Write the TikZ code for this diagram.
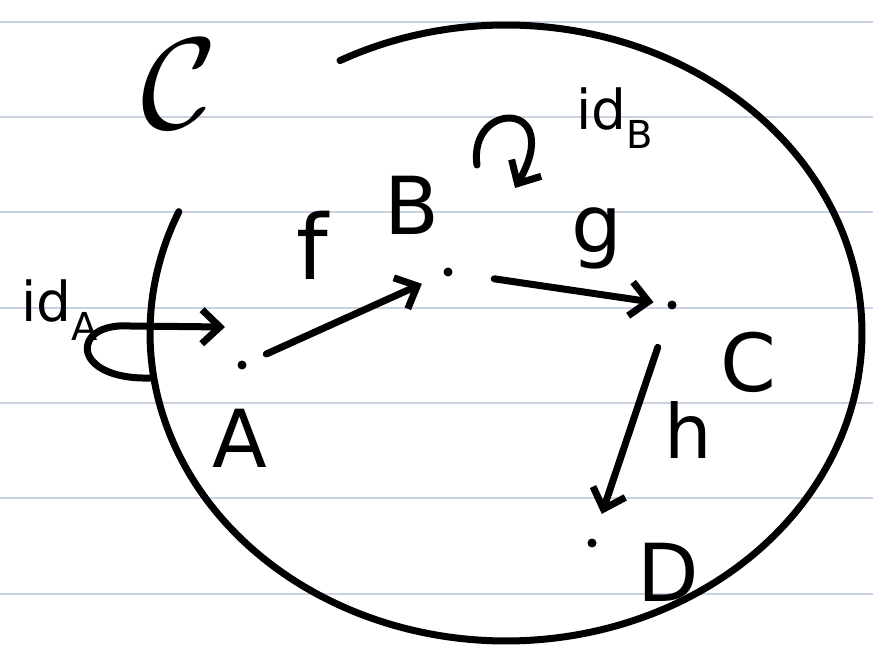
\documentclass[tikz,border=0pt]{standalone}
\usepackage{fontspec}
\setmainfont{DejaVu Sans}
\usetikzlibrary{arrows.meta,calc}
\definecolor{ruleline}{RGB}{200,210,224}
\tikzset{
  ink/.style={line width=7pt, line cap=round, line join=round, black},
  arr/.style={ink, -{Straight Barb[length=18pt,width=34pt,line width=7pt]}},
  pt/.style={circle, fill=black, inner sep=0pt, minimum size=9pt},
  lbl/.style={font=\fontsize{80}{80}\selectfont, inner sep=0pt},
  sml/.style={font=\fontsize{55}{55}\selectfont, inner sep=0pt}
}
\begin{document}
\begin{tikzpicture}[x=1pt,y=-1pt]
\useasboundingbox (0,0) rectangle (873,660);
\fill[white] (0,0) rectangle (873,660);
\foreach \yy in {22,117,212,308,403,498,594}
  \draw[ruleline, line width=2pt] (0,\yy) -- (873,\yy);
% category boundary
\draw[ink] plot[domain=117.8:-203.2, samples=120, smooth] ({506+356*cos(\x)},{333-308*sin(\x)});
\node[inner sep=0pt, scale=13] (cat) at (180,84) {$\mathcal{C}$};
% objects
\node[pt] (a) at (242,365) {};
\node[pt] (b) at (448,272) {};
\node[pt] (c) at (672,305) {};
\node[pt] (d) at (592,543) {};
\node[lbl] (la) at (240,438) {A};
\node[lbl] (lb) at (412,205) {B};
\node[lbl] (lc) at (748,362) {C};
\node[lbl] (ld) at (668,572) {D};
% morphisms
\draw[arr, shorten <=22pt, shorten >=24pt] (a) -- (b);
\draw[arr, shorten <=42pt, shorten >=14pt] (b) -- (c);
\draw[arr, shorten <=40pt, shorten >=26pt] (c) -- (d);
\node[lbl, font=\fontsize{90}{90}\selectfont] (lf) at (312,245) {f};
\node[lbl, font=\fontsize{80}{80}\selectfont] (lg) at (597,238) {g};
\node[lbl, font=\fontsize{75}{75}\selectfont] (lh) at (688,430) {h};
% identity loops
\coordinate (ia) at (150,378);
\draw[arr] (ia) .. controls (70,380) and (70,322) .. (130,326) -- ($(a)+(-17,-38)$);
\coordinate (ib) at (477,165);
\draw[arr] (ib) .. controls (468,100) and (565,100) .. (515,188);
\node[sml] (lia) at (60,310) {id$_{\mathrm{A}}$};
\node[sml] (lib) at (615,118) {id$_{\mathrm{B}}$};
\end{tikzpicture}
\end{document}
